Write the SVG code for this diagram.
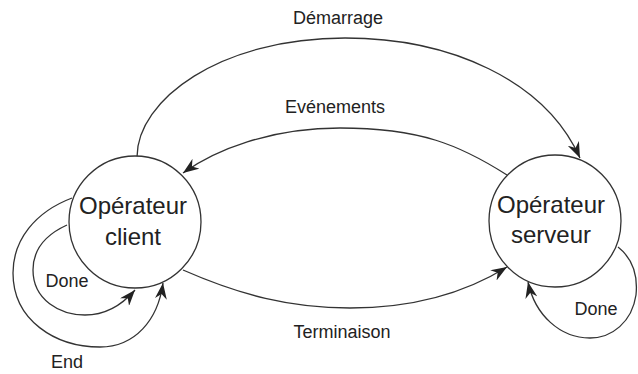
<svg xmlns="http://www.w3.org/2000/svg" width="638" height="374" viewBox="0 0 638 374">
<defs>
<marker id="arr" markerWidth="18" markerHeight="12" refX="16" refY="6" orient="auto" markerUnits="userSpaceOnUse">
<path d="M0,0 L16,6 L0,12 L5,6 Z" fill="#222"/>
</marker>
<style>
.node circle{fill:#fff;stroke:#333;stroke-width:1.3}
.node text{font-family:"Liberation Sans",Arial,sans-serif;font-size:24px;fill:#222;text-anchor:middle}
.edge{fill:none;stroke:#333;stroke-width:1.3;marker-end:url(#arr)}
.lbl{font-family:"Liberation Sans",Arial,sans-serif;font-size:18px;fill:#222;text-anchor:middle}
</style>
</defs>
<rect width="638" height="374" fill="#fff"/>
<g id="connectors">
<path class="edge" d="M137,157 C137,100 220,38 345,38 C450,38 545,80 580,158"/>
<path class="edge" d="M507,175 C460,145 420,128 340,128 C270,128 215,150 183,173"/>
<path class="edge" d="M183,270 C240,295 290,308 350,308 C420,308 470,290 507,267"/>
<path class="edge" d="M67,225 C45,235 33,250 33,270 C33,300 60,315 85,315 C105,315 122,305 135,290"/>
<path class="edge" d="M72,198 C35,212 13,240 13,273 C13,320 55,347 100,347 C135,347 158,320 163,283"/>
<path class="edge" d="M618,247 C632,258 638,275 636,295 C632,322 612,338 590,338 C560,338 535,315 528,282"/>
<text class="lbl" x="338" y="24">Démarrage</text>
<text class="lbl" x="335" y="113">Evénements</text>
<text class="lbl" x="342" y="338">Terminaison</text>
<text class="lbl" x="67" y="287">Done</text>
<text class="lbl" x="67" y="368">End</text>
<text class="lbl" x="596" y="315">Done</text>
</g>
<g id="client" class="node">
<circle cx="135" cy="222" r="66"/>
<text x="133" y="214">Opérateur</text>
<text x="133" y="245">client</text>
</g>
<g id="serveur" class="node">
<circle cx="555" cy="221" r="66"/>
<text x="551" y="213">Opérateur</text>
<text x="551" y="243">serveur</text>
</g>
</svg>
